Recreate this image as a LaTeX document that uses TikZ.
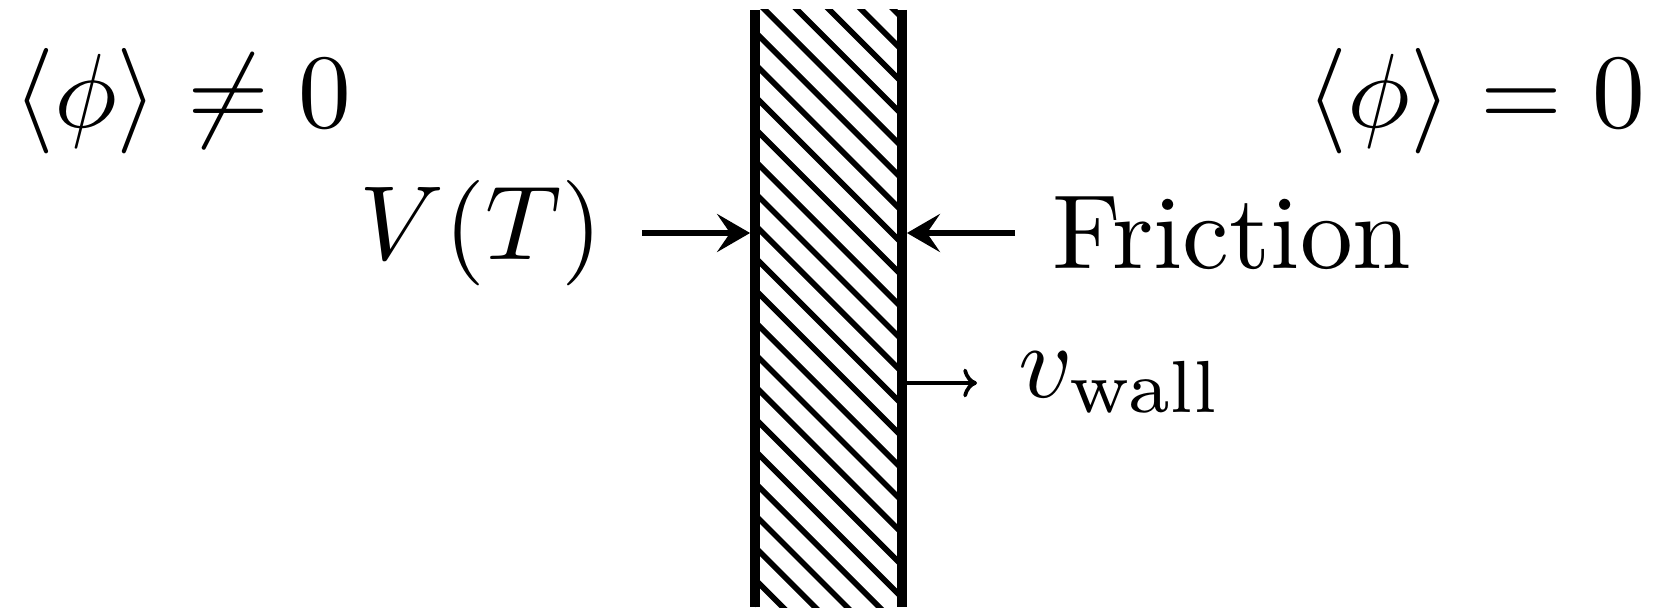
\documentclass[tikz,border=0pt]{standalone}
\usetikzlibrary{arrows.meta}

\begin{document}
\begin{tikzpicture}
    \tikzset{
        label text/.style={inner sep=0pt, scale=3.0},
        wall edge/.style={draw=black, line width=2.8pt},
        hatch/.style={draw=black, line width=1.6pt},
        force/.style={line width=1.5pt, shorten >=1.4pt,
            -{Stealth[length=0.33cm, width=0.38cm, inset=0.13cm]}},
        velocity/.style={line width=1.05pt, ->},
    }
    \useasboundingbox (0,0) rectangle (16.61,6.09);

    % the wall
    \node[minimum width=1.47cm, minimum height=5.97cm, inner sep=0pt, outer sep=0pt]
        (wall) at (8.285,3.005) {};
    \begin{scope}
        \clip (wall.south west) rectangle (wall.north east);
        \foreach \k in {-6,...,18}
            \draw[hatch] (7.4,{13.32-0.322*\k-7.4}) -- (9.2,{13.32-0.322*\k-9.2});
    \end{scope}
    \draw[wall edge] (wall.north west) -- (wall.south west);
    \draw[wall edge] (wall.north east) -- (wall.south east);

    % phases
    \node[label text, anchor=base west] (broken) at (0.11,4.81) {$\langle\phi\rangle\neq0$};
    \node[label text, anchor=base east] (symmetric) at (16.47,4.81) {$\langle\phi\rangle=0$};

    % forces on the wall
    \node[label text, anchor=east] (potential) at (6.05,3.76) {$V(T)$};
    \node[label text, anchor=west] (friction) at (10.50,3.76) {Friction};
    \coordinate (push) at (6.42,3.76);
    \coordinate (drag) at (10.15,3.76);
    \draw[force] (push) -- (push -| wall.west);
    \draw[force] (drag) -- (drag -| wall.east);

    % wall velocity
    \coordinate (move) at (9.77,2.26);
    \draw[velocity] (move -| wall.east) -- (move);
    \node[label text, anchor=base west] (vwall) at (10.16,2.12) {$v_{\mathrm{wall}}$};
\end{tikzpicture}
\end{document}
